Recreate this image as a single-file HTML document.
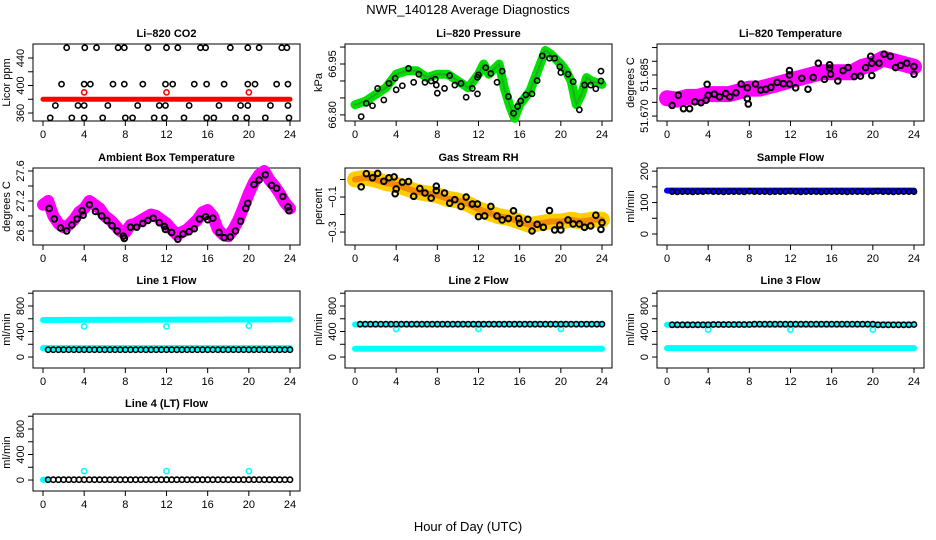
<!DOCTYPE html>
<html><head><meta charset="utf-8"><style>
html,body{margin:0;padding:0;background:#fff;}
svg{display:block;font-family:"Liberation Sans",Arial,sans-serif;}
</style></head><body>
<svg id="c" width="936" height="540" viewBox="0 0 936 540">
<text x="468" y="14" text-anchor="middle" font-size="13">NWR_140128  Average Diagnostics</text>
<text x="468" y="531" text-anchor="middle" font-size="13">Hour of Day (UTC)</text>
</svg>
<script>
// ---- data ----
const HH = [0.5,1,1.5,2,2.5,3,3.5,4,4.5,5,5.5,6,6.5,7,7.5,8,8.5,9,9.5,10,10.5,11,11.5,12,12.5,13,13.5,14,14.5,15,15.5,16,16.5,17,17.5,18,18.5,19,19.5,20,20.5,21,21.5,22,22.5,23,23.5,24];
const co2TopH = [2.3,4.06,5.2,7.3,7.9,10.2,12.0,13.1,15.3,15.8,18.2,19.9,21.0,23.2,23.7];
const co2MidH = [1.8,4.0,4.6,6.8,7.9,9.7,11.9,12.6,14.7,15.9,17.6,19.9,20.6,22.7,23.8];
const co2LowH = [1.2,3.4,4.0,6.3,9.2,11.3,11.9,14.2,17.1,19.2,19.9,22.1,23.8];
const co2BotH = [0.7,2.8,4.0,5.8,8.0,8.7,10.8,11.8,13.7,15.9,16.6,18.7,19.8,21.6,23.9];
const co2Levels = [455,402,371,353];
const co2BandX = [0,24]; const co2BandY = [380,380];
const co2OutH = [4,12,20]; const co2OutY = [390,390,390];

const presH = [0.6,1.1,1.7,2.2,2.8,3.3,3.9,4.0,4.6,5.2,5.7,6.2,6.8,7.4,7.8,7.9,8.0,8.7,9.2,9.7,10.3,10.8,11.4,11.9,11.9,12.0,12.7,13.2,13.8,14.3,14.9,15.4,15.8,16.1,16.6,17.2,17.7,18.2,18.9,19.4,19.9,20.0,20.7,21.2,21.8,22.3,22.9,23.4,23.9,23.9];
const presV = [66.795,66.834,66.827,66.878,66.844,66.893,66.908,66.874,66.886,66.937,66.896,66.920,66.896,66.900,66.905,66.888,66.864,66.878,66.916,66.888,66.893,66.852,66.878,66.862,66.911,66.918,66.939,66.922,66.896,66.929,66.854,66.805,66.825,66.841,66.859,66.862,66.901,66.974,66.967,66.967,66.942,66.925,66.920,66.898,66.815,66.888,66.888,66.877,66.929,66.900];
const presBandH = [0,1,2,3,4,5,6,7,8,9,10,11,12,12.5,13,14,14.5,15,15.5,16,17,18,18.5,19,20,20.5,21,21.5,22,22.5,23,24];
const presBandV = [66.83,66.84,66.86,66.88,66.92,66.93,66.93,66.91,66.92,66.92,66.90,66.88,66.92,66.95,66.92,66.95,66.88,66.83,66.79,66.83,66.87,66.95,66.99,66.98,66.95,66.93,66.90,66.83,66.86,66.91,66.90,66.89];

const ltH = [0.5,1.1,1.6,2.2,2.7,3.3,3.8,3.9,4.0,4.6,5.1,5.7,6.1,6.7,7.2,7.8,7.8,7.9,8.6,9.1,9.6,10.1,10.7,11.3,11.9,11.9,11.9,12.5,13.1,13.7,14.2,14.7,15.3,15.8,15.8,15.9,16.6,17.1,17.6,18.2,18.8,19.3,19.8,19.9,19.9,20.6,21.1,21.7,22.2,22.7,23.3,24.0,24.0];
const ltV = [51.6739,51.6776,51.6727,51.6727,51.6752,51.6749,51.6758,51.6816,51.6776,51.6780,51.6770,51.6782,51.6770,51.6785,51.6817,51.6803,51.6764,51.6744,51.6817,51.6795,51.6798,51.6805,51.6823,51.6818,51.6817,51.6850,51.6866,51.6803,51.6838,51.6798,51.6841,51.6893,51.6834,51.6887,51.6875,51.6853,51.6828,51.6866,51.6877,51.6844,51.6846,51.6877,51.6918,51.6893,51.6848,51.6893,51.6926,51.6918,51.6877,51.6885,51.6893,51.6881,51.6853];
const ltBandH = [0,1,2,3,4,5,6,7,8,9,10,11,12,13,14,15,16,17,18,19,20,21,22,23,24];
const ltBandV = [51.6765,51.676,51.677,51.677,51.678,51.678,51.678,51.679,51.680,51.680,51.681,51.682,51.683,51.684,51.685,51.686,51.686,51.686,51.686,51.688,51.689,51.691,51.690,51.689,51.688];

const ambH = [0.6,1.1,1.7,2.3,2.8,3.3,3.8,3.9,4.5,5.1,5.7,6.2,6.7,7.2,7.8,7.9,8.5,9.1,9.7,10.2,10.7,11.3,11.8,11.9,12.5,13.1,13.6,14.2,14.7,15.2,15.8,16.0,16.5,17.1,17.6,18.2,18.7,19.2,19.7,19.9,20.5,21.0,21.6,22.2,22.7,23.3,23.8,23.9];
const ambV = [27.10,26.96,26.84,26.80,26.88,26.96,27.07,27.01,27.15,27.06,27.00,26.94,26.87,26.80,26.73,26.70,26.85,26.85,26.90,26.94,26.97,26.91,26.86,26.82,26.78,26.69,26.76,26.79,26.83,26.96,26.99,26.95,26.97,26.78,26.71,26.72,26.80,26.93,27.10,27.17,27.42,27.48,27.55,27.41,27.37,27.26,27.12,27.07];
const ambBandH = [0,0.5,1,1.5,2,2.5,3,3.5,4,4.5,5,5.5,6,6.5,7,7.5,8,8.5,9,10,10.5,11,11.5,12,12.5,13,14,15,15.5,16,16.5,17,17.5,18,18.5,19,19.5,20,20.5,21,21.5,22,22.5,23,23.5,24];
const ambBandV = [27.15,27.2,27.0,26.9,26.85,26.88,26.95,27.05,27.1,27.2,27.15,27.1,27.0,26.95,26.88,26.8,26.78,26.88,26.9,26.98,27.02,27.0,26.95,26.9,26.82,26.75,26.82,26.95,27.05,27.08,27.0,26.82,26.75,26.73,26.82,26.95,27.12,27.3,27.45,27.55,27.6,27.48,27.4,27.3,27.18,27.1];

const rhH = [0.6,1.1,1.7,2.2,2.8,3.3,3.8,3.9,4.0,4.6,5.2,5.7,6.3,6.8,7.4,7.9,7.9,8.7,9.2,9.7,10.3,10.8,11.4,11.9,12.0,12.6,13.2,13.8,14.3,14.9,15.4,15.9,16.0,16.8,17.2,17.7,18.3,18.9,19.4,19.9,20.0,20.7,21.2,21.8,22.3,22.9,23.4,24.0,23.9];
const rhV = [-0.042,0.033,0.010,0.035,-0.010,0.010,0.015,-0.081,-0.054,-0.015,-0.012,-0.096,-0.052,-0.077,-0.106,-0.038,-0.063,-0.077,-0.135,-0.115,-0.154,-0.100,-0.140,-0.140,-0.212,-0.208,-0.154,-0.208,-0.231,-0.223,-0.179,-0.223,-0.250,-0.227,-0.294,-0.256,-0.273,-0.177,-0.288,-0.260,-0.288,-0.231,-0.254,-0.254,-0.273,-0.265,-0.204,-0.246,-0.285];
const rhBandH = [0,1,2,3,4,5,6,7,8,9,10,11,12,13,14,15,16,17,18,19,20,21,22,23,24];
const rhBandV = [0.0,0.01,0.0,-0.02,-0.03,-0.05,-0.07,-0.08,-0.09,-0.11,-0.12,-0.14,-0.17,-0.19,-0.21,-0.22,-0.24,-0.26,-0.25,-0.24,-0.24,-0.23,-0.24,-0.23,-0.23];

const sampleV = [135,134,135,135,134,135,135,136,135,135,134,135,135,135,134,136,135,135,135,134,135,135,135,136,135,134,135,135,135,134,135,135,135,135,134,135,135,135,134,135,136,135,135,134,135,135,135,135];
const sampleBandY = [138,138];

const l1BlackV = [115,115,115,115,115,115,115,115,115,115,115,115,115,115,115,115,115,115,115,115,115,115,115,115,115,115,115,115,115,115,115,115,115,115,115,115,115,115,115,115,115,115,115,115,115,115,115,115];
const l1HiBand = [580,590]; const l1LoBand = [140,140]; const l1Out = [480,480,490];
const l2BlackV = [515,515,515,515,515,515,515,515,515,515,515,515,515,515,515,515,515,515,515,515,515,515,515,515,515,515,515,515,515,515,515,515,515,515,515,515,515,515,515,515,515,515,515,515,515,515,515,515];
const l2HiBand = [510,515]; const l2LoBand = [130,130]; const l2Out = [440,440,440];
const l3BlackV = [505,505,505,505,505,505,505,505,510,510,510,510,510,510,510,510,515,515,515,515,515,515,515,515,515,515,515,515,515,515,515,515,515,515,515,515,515,515,515,515,505,505,505,505,505,505,505,510];
const l3HiBand = [505,510]; const l3LoBand = [140,140]; const l3Out = [430,430,430];
const l4BlackV = [5,5,5,5,5,5,5,5,5,5,5,5,5,5,5,5,5,5,5,5,5,5,5,5,5,5,5,5,5,5,5,5,5,5,5,5,5,5,5,5,5,5,5,5,5,5,5,5];
const l4StartBand = [5,5]; const l4Out = [140,140,140];
const outH = [4,12,20];
const xTicks = [0,4,8,12,16,20,24];

// ---- drawing ----
const NS='http://www.w3.org/2000/svg';
const svg=document.getElementById('c');
const rowTops=[44,168,291,414];
function mk(tag,attrs,parent){const e=document.createElementNS(NS,tag);for(const k in attrs)e.setAttribute(k,attrs[k]);(parent||svg).appendChild(e);return e;}

function panel(col,row,name,title,ylab,ymin,ymax,ticks,labels){
  const g=mk('g',{});
  
  
  const L=col*312+33,R=col*312+300,T=rowTops[row],B=T+77;
  const sx=h=>col*312+43+h*247/24;
  const sy=v=>B-(v-ymin)/(ymax-ymin)*77;
  const t=mk('text',{x:(L+R)/2,y:T-7,'text-anchor':'middle','font-size':11,'font-weight':'bold'},g);
  t.textContent=title;
  
  
  const box=mk('rect',{x:L,y:T,width:R-L,height:B-T,fill:'none',stroke:'#000','stroke-width':1},g);
  
  
  xTicks.forEach(h=>{
    mk('line',{x1:sx(h),x2:sx(h),y1:B,y2:B+5,stroke:'#000'},g);
    const tl=mk('text',{x:sx(h),y:B+17,'text-anchor':'middle','font-size':11},g);
    tl.textContent=h;
    
    
  });
  ticks.forEach((v,i)=>{
    const y=sy(v);
    mk('line',{x1:L,x2:L-5,y1:y,y2:y,stroke:'#000'},g);
    if(labels[i]!==''){
      const tl=mk('text',{x:L-9,y:y,'text-anchor':'middle','font-size':11,transform:`rotate(-90 ${L-9} ${y})`},g);
      tl.textContent=labels[i];
      
      
    }
  });
  const yl=mk('text',{x:L-23,y:(T+B)/2,'text-anchor':'middle','font-size':11,transform:`rotate(-90 ${L-23} ${(T+B)/2})`},g);
  yl.textContent=ylab;
  
  
  const clip='clip'+col+row;
  const cp=mk('clipPath',{id:clip},g);mk('rect',{x:L-2,y:T-3,width:R-L+4,height:B-T+6},cp);
  const d=mk('g',{'clip-path':`url(#${clip})`},g);
  return {sx,sy,g:d};
}
function band(p,hs,vs,color,w,name){
  const pts=hs.map((h,i)=>p.sx(h)+','+p.sy(vs[i])).join(' ');
  const e=mk('polyline',{points:pts,fill:'none',stroke:color,'stroke-width':w,'stroke-linejoin':'round','stroke-linecap':'round'},p.g);
  
  
}
function pts(p,hs,vs,color,name,r,sw){
  hs.forEach((h,i)=>{
    const e=mk('circle',{cx:p.sx(h),cy:p.sy(vs[i]),r:r||2.6,fill:'none',stroke:color,'stroke-width':sw||1.6},p.g);
    
    
  });
}

// CO2
let p=panel(0,0,'co2','Li\u2013820 CO2','Licor ppm',348.4,460.4,[360,380,400,420,440],['360','','400','','440']);
band(p,co2BandX,co2BandY,'#ff0000',5,'co2-red-band');
pts(p,co2OutH,co2OutY,'#ff0000','co2-red-point');
[co2TopH,co2MidH,co2LowH,co2BotH].forEach((arr,k)=>pts(p,arr,arr.map(()=>co2Levels[k]),'#000','co2-point'));

// Pressure
p=panel(1,0,'pressure','Li\u2013820 Pressure','kPa',66.782,67.009,[66.80,66.85,66.90,66.95,67.00],['66.80','','','66.95','']);
band(p,presBandH,presBandV,'#00e000',9,'pressure-green-band');
band(p,presBandH,presBandV,'#22aa22',2,'pressure-green-core');
pts(p,presH,presV,'#000','pressure-point');

// Li temp
p=panel(2,0,'li-temp','Li\u2013820 Temperature','degrees C',51.6682,51.6963,[51.670,51.675,51.680,51.685,51.690,51.695],['51.670','','','51.685','','']);
band(p,ltBandH,ltBandV,'#ff00ff',16,'li-temp-magenta-band');
pts(p,ltH,ltV,'#000','li-temp-point',2.8,2);

// Ambient
p=panel(0,1,'ambient','Ambient Box Temperature','degrees C',26.613,27.64,[26.8,27.0,27.2,27.4,27.6],['26.8','','27.2','','27.6']);
band(p,ambBandH,ambBandV,'#ff00ff',12,'ambient-magenta-band');
pts(p,ambH,ambV,'#000','ambient-point',2.8,2);

// RH
p=panel(1,1,'rh','Gas Stream RH','percent',-0.374,0.0657,[0.0,-0.1,-0.2,-0.3],['','\u22120.1','','\u22120.3']);
band(p,rhBandH,rhBandV,'#ffcc00',16,'rh-yellow-band');
band(p,rhBandH,rhBandV,'#f08a00',6,'rh-orange-core');
pts(p,rhH,rhV,'#000','rh-point',2.8,2);

// Sample flow
p=panel(2,1,'sample-flow','Sample Flow','ml/min',-35,210,[0,50,100,150,200],['0','','100','','200']);
band(p,[0,24],sampleBandY,'#0000ff',6,'sample-blue-band');
pts(p,HH,sampleV,'#000','sample-point');

const fT=[0,200,400,600,800,1000],fL=['0','','400','','800',''];
// Line 1
p=panel(0,2,'line1','Line 1 Flow','ml/min',-172,1035,fT,fL);
band(p,[0,24],l1HiBand,'#00ffff',6,'line1-cyan-high');
band(p,[0,24],l1LoBand,'#00ffff',6,'line1-cyan-low');
pts(p,outH,l1Out,'#00ffff','line1-cyan-outlier');
pts(p,HH,l1BlackV,'#000','line1-point');
// Line 2
p=panel(1,2,'line2','Line 2 Flow','ml/min',-172,1035,fT,fL);
band(p,[0,24],l2HiBand,'#00ffff',6,'line2-cyan-high');
band(p,[0,24],l2LoBand,'#00ffff',6,'line2-cyan-low');
pts(p,outH,l2Out,'#00ffff','line2-cyan-outlier');
pts(p,HH,l2BlackV,'#000','line2-point');
// Line 3
p=panel(2,2,'line3','Line 3 Flow','ml/min',-172,1035,fT,fL);
band(p,[0,24],l3HiBand,'#00ffff',6,'line3-cyan-high');
band(p,[0,24],l3LoBand,'#00ffff',6,'line3-cyan-low');
pts(p,outH,l3Out,'#00ffff','line3-cyan-outlier');
pts(p,HH,l3BlackV,'#000','line3-point');
// Line 4
p=panel(0,3,'line4','Line 4 (LT) Flow','ml/min',-172,1035,fT,fL);
band(p,[0,0.4],l4StartBand,'#00ffff',6,'line4-cyan-start');
pts(p,outH,l4Out,'#00ffff','line4-cyan-outlier');
pts(p,HH,l4BlackV,'#000','line4-point');
</script>
</body></html>
